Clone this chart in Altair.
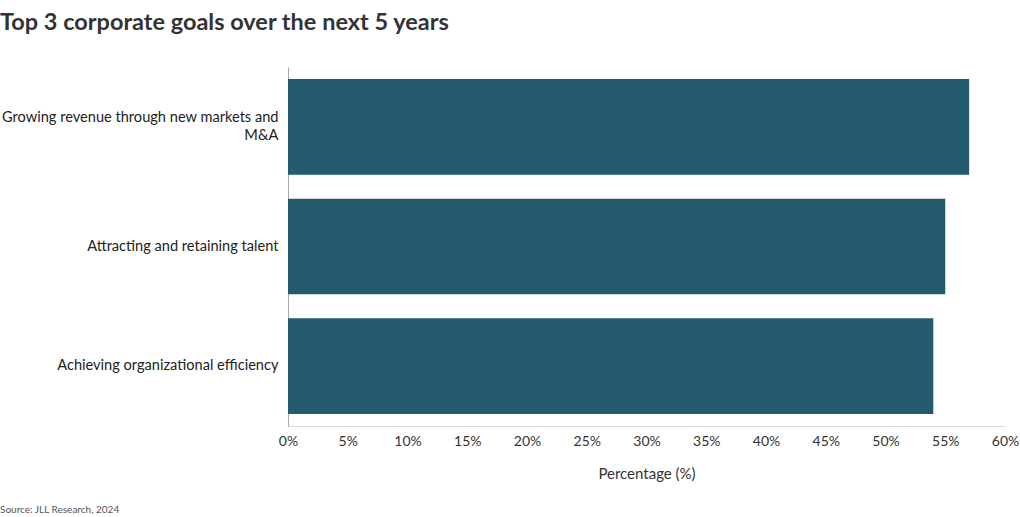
import altair as alt
import pandas as pd

goals = [
    "Growing revenue through new markets and\nM&A",
    "Attracting and retaining talent",
    "Achieving organizational efficiency",
]
values = [57, 55, 54]
x_ticks = list(range(0, 61, 5))

df = pd.DataFrame({"goal": goals, "pct": values})
FONT = "Lato"

bars = alt.Chart(df).mark_bar(color="#235a6e").encode(
    x=alt.X(
        "pct:Q",
        scale=alt.Scale(domain=[0, 60], nice=False),
        axis=alt.Axis(
            values=x_ticks,
            labelExpr="datum.value + '%'",
            title="Percentage (%)",
            ticks=False,
            grid=False,
            labelFlush=False,
            domainColor="#dddddd",
            labelColor="#333333",
            labelFontSize=14,
            labelFont=FONT,
            labelPadding=8,
            titleFont=FONT,
            titleFontSize=15,
            titleFontWeight="normal",
            titleColor="#333333",
            titlePadding=18,
        ),
    ),
    y=alt.Y(
        "goal:N",
        sort=goals,
        scale=alt.Scale(paddingInner=0.2, paddingOuter=0.1),
        axis=alt.Axis(
            title=None,
            ticks=False,
            grid=False,
            domainColor="#aaaaaa",
            labelExpr="split(datum.value, '\\n')",
            labelColor="#222222",
            labelFontSize=14.6,
            labelFont=FONT,
            labelPadding=10,
            labelLimit=400,
            labelLineHeight=18,
            labelOffset={
                "condition": {"test": "indexof(datum.value, '\\n') >= 0", "value": -9},
                "value": 0,
            },
        ),
    ),
)

source = alt.Chart(pd.DataFrame({"t": ["Source: JLL Research, 2024"]})).mark_text(
    align="left", baseline="middle", fontSize=10, font=FONT, color="#555555"
).encode(text="t:N", x=alt.value(-288), y=alt.value(443))

chart = alt.layer(bars, source).properties(
    width=717,
    height=359,
    autosize=alt.AutoSizeParams(type="none"),
    padding={"left": 288, "top": 67, "right": 15, "bottom": 91},
    title=alt.TitleParams(
        "Top 3 corporate goals over the next 5 years",
        anchor="start",
        frame="group",
        dx=-288,
        offset=33,
        font=FONT,
        fontSize=23.5,
        fontWeight="bold",
        color="#333333",
    ),
).configure_view(stroke=None)

chart.save("out.html", embed_options={"renderer": "svg", "actions": False})
